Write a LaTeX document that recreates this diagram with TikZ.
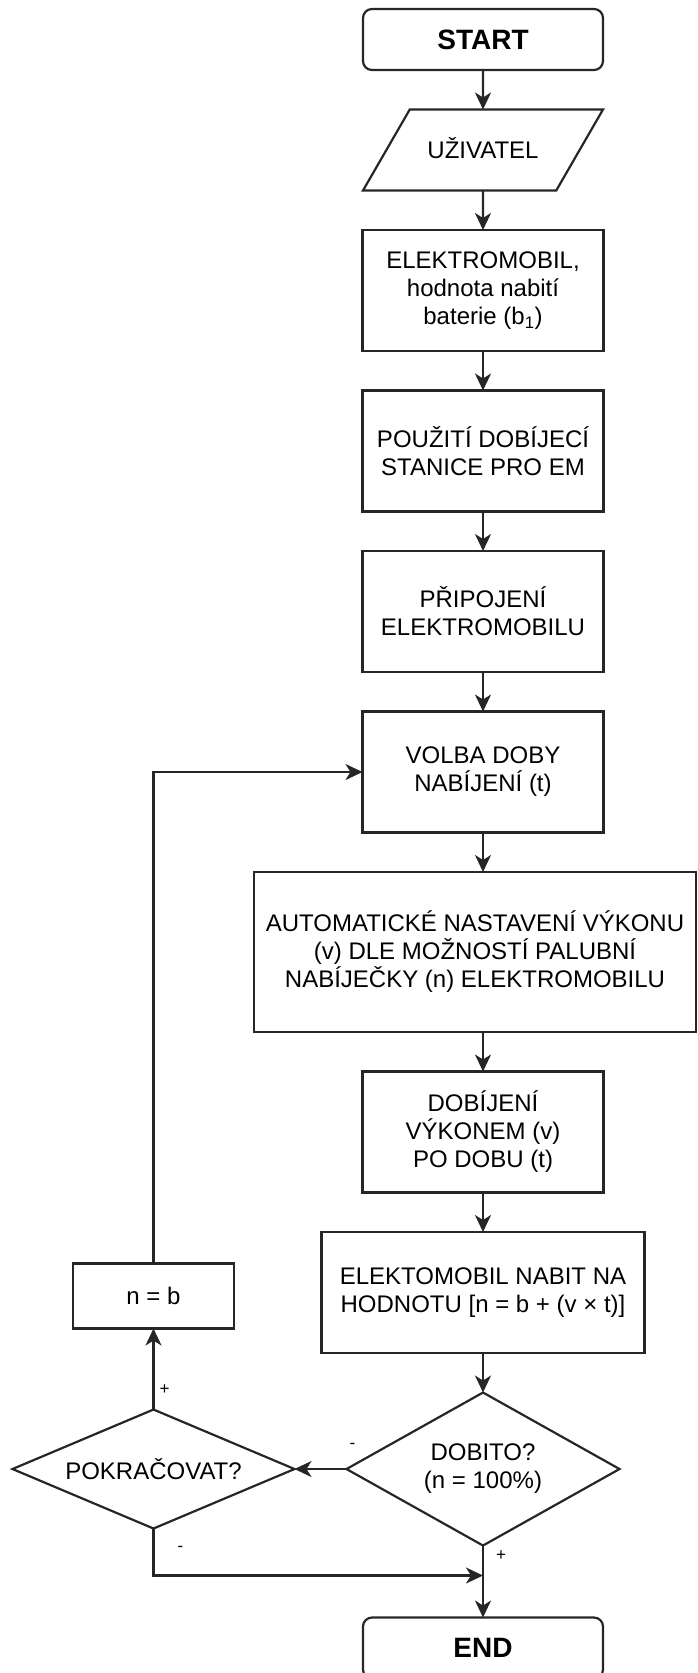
\documentclass[tikz,border=0pt]{standalone}
\usepackage{fontspec}
\setsansfont{Liberation Sans}
\usetikzlibrary{arrows.meta, positioning, shapes.geometric}
\tikzset{
  font=\sffamily,
  block/.style={draw=black!85, line width=2.2pt, align=center, inner sep=4pt, outer sep=0pt,
    font=\sffamily\fontsize{24}{28}\selectfont, text=black},
  procblock/.style={block, rectangle, minimum width=241pt, minimum height=121pt},
  termblock/.style={block, rectangle, rounded corners=9pt, minimum width=240pt,
    minimum height=61pt, font=\sffamily\bfseries\fontsize{28}{32}\selectfont},
  ioblock/.style={block, trapezium, trapezium left angle=60, trapezium right angle=120,
    trapezium stretches body=true, minimum width=240pt,
    text height=17pt, text depth=0pt, inner ysep=32pt},
  decision/.style={block, diamond, inner sep=0pt},
  flow/.style={-{Stealth[length=17pt, width=16pt, inset=5pt]}, line width=2.2pt, draw=black!85},
  signlabel/.style={font=\sffamily\fontsize{17}{20}\selectfont, inner sep=0pt},
}
\begin{document}
\begin{tikzpicture}[x=1pt, y=-1pt, node distance=39.5pt]
  \useasboundingbox (0,0) rectangle (698,1673);

  % ----------------------------------------------------------------
  % Main column
  % ----------------------------------------------------------------
  \node[termblock] (start) at (483,39.5) {START};
  \node[ioblock, below=of start] (user) {UŽIVATEL};
  \node[procblock, below=of user] (car)
    {ELEKTROMOBIL,\\ hodnota nabití\\ baterie (b\textsubscript{1})};
  \node[procblock, below=of car] (station) {POUŽITÍ DOBÍJECÍ\\ STANICE PRO EM};
  \node[procblock, below=of station] (plug) {PŘIPOJENÍ\\ ELEKTROMOBILU};
  \node[procblock, below=of plug] (choose) {VOLBA DOBY\\ NABÍJENÍ (t)};
  \node[procblock, below=of choose, xshift=-8pt, minimum width=442pt, minimum height=160pt] (power)
    {AUTOMATICKÉ NASTAVENÍ VÝKONU\\ (v) DLE MOŽNOSTÍ PALUBNÍ\\ NABÍJEČKY (n) ELEKTROMOBILU};
  \node[procblock, below=of power, xshift=8pt] (charge) {DOBÍJENÍ\\ VÝKONEM (v)\\ PO DOBU (t)};
  \node[procblock, below=of charge, minimum width=323pt] (result)
    {ELEKTOMOBIL NABIT NA\\ HODNOTU [n = b + (v × t)]};
  \node[decision, below=of result, aspect=1.78, minimum width=273pt, minimum height=153pt] (full)
    {DOBITO?\\ (n = 100\%)};
  \node[termblock, below=72pt of full] (end) {END};

  % ----------------------------------------------------------------
  % Side loop
  % ----------------------------------------------------------------
  \node[decision, left=52pt of full, aspect=2.37, minimum width=282pt, minimum height=119pt] (again)
    {POKRAČOVAT?};
  \node[procblock, above=81pt of again, minimum width=161pt, minimum height=65pt] (reset) {n = b};
  \coordinate (merge) at ([yshift=-30pt]full.south);

  % ----------------------------------------------------------------
  % Arrows
  % ----------------------------------------------------------------
  \draw[flow] (start) -- (user);
  \draw[flow] (user) -- (car);
  \draw[flow] (car) -- (station);
  \draw[flow] (station) -- (plug);
  \draw[flow] (plug) -- (choose);
  \draw[flow] (choose) -- (choose |- power.north);
  \draw[flow] (power.south -| charge) -- (charge);
  \draw[flow] (charge) -- (result);
  \draw[flow] (result) -- (full);
  \draw[flow] (full) -- (end);
  \draw[flow] (full) -- (again);
  \draw[flow] (again) -- (reset);
  \draw[flow] (reset.north) |- (choose.west);
  \draw[flow] (again.south) |- (merge);

  \node[signlabel] (minusA) at ([xshift=6pt, yshift=23pt]full.west) {-};
  \node[signlabel] (plusA) at ([xshift=11pt, yshift=20pt]again.north) {+};
  \node[signlabel] (minusB) at ([xshift=27pt, yshift=-20pt]again.south) {-};
  \node[signlabel] (plusB) at ([xshift=18pt, yshift=-10pt]full.south) {+};

\end{tikzpicture}
\end{document}
